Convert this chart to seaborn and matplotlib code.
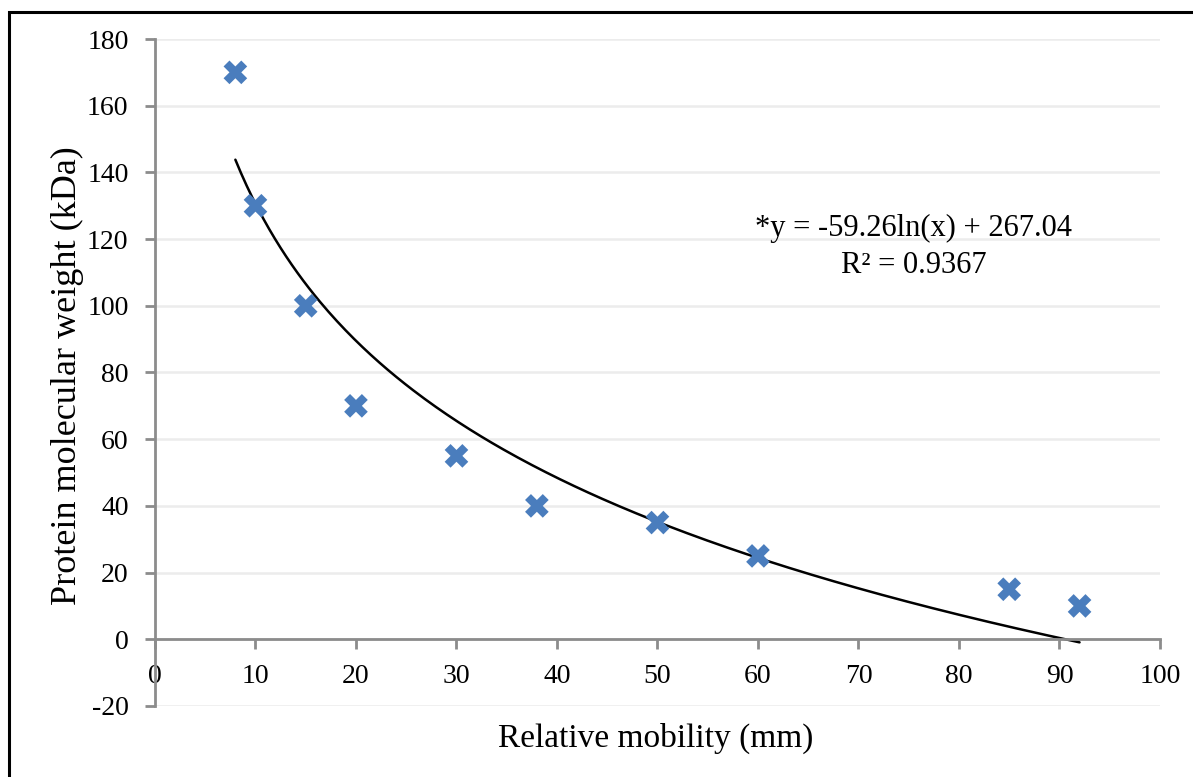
import numpy as np
import pandas as pd
import matplotlib
matplotlib.use("Agg")
import matplotlib.pyplot as plt
import seaborn as sns
from matplotlib.patches import Rectangle

# Marker standards: migration distance (mm) and molecular weight (kDa)
mobility = [8, 10, 15, 20, 30, 38, 50, 60, 85, 92]
mol_weight = [170, 130, 100, 70, 55, 40, 35, 25, 15, 10]

# Logarithmic trendline coefficients, y = a*ln(x) + b
trend_a = -59.26
trend_b = 267.04
r_squared = 0.9367

x_ticks = [0, 10, 20, 30, 40, 50, 60, 70, 80, 90, 100]
y_ticks = [-20, 0, 20, 40, 60, 80, 100, 120, 140, 160, 180]

sns.set_style("white")
plt.rcParams["font.family"] = ["Liberation Serif", "DejaVu Serif"]
plt.rcParams["text.color"] = "black"
plt.rcParams["axes.labelcolor"] = "black"

fig = plt.figure(figsize=(11.93, 7.77), dpi=100)
ax = fig.add_axes([0.1299, 0.0914, 0.8424, 0.8584])

axis_grey = "#8c8c8c"
grid_grey = "#ececec"

# horizontal gridlines
for yv in y_ticks:
    ax.axhline(yv, color=grid_grey, lw=1.8, zorder=0)

df = pd.DataFrame({"mobility": mobility, "weight": mol_weight})

# trendline over the span of the standards
xs = np.linspace(min(mobility), max(mobility), 300)
trend = pd.DataFrame({"x": xs, "y": trend_a * np.log(xs) + trend_b})
sns.lineplot(data=trend, x="x", y="y", ax=ax, color="black", lw=1.8, zorder=2)

sns.scatterplot(data=df, x="mobility", y="weight", ax=ax, marker="X",
                s=290, color="#4a7dbd", edgecolor="none", linewidth=0, zorder=3)

ax.set_xlim(0, 100)
ax.set_ylim(-20, 180)
ax.set_xticks(x_ticks)
ax.set_yticks(y_ticks)
ax.set_xticklabels([str(v) for v in x_ticks])
ax.set_yticklabels([str(v) for v in y_ticks])

for side in ["top", "right"]:
    ax.spines[side].set_visible(False)
ax.spines["left"].set_color(axis_grey)
ax.spines["left"].set_linewidth(2)
ax.spines["bottom"].set_color(axis_grey)
ax.spines["bottom"].set_linewidth(2)
ax.spines["bottom"].set_position(("data", 0))

ax.tick_params(axis="both", which="major", direction="out", length=7,
               width=2, color=axis_grey, labelsize=20, labelcolor="black")
ax.tick_params(axis="x", pad=11)
ax.tick_params(axis="y", pad=12)
ax.tick_params(left=True, bottom=True)

ax.set_xlabel("")
ax.set_ylabel("")
fig.text(656 / 1193, 1 - 738 / 777, "Relative mobility (mm)", fontsize=24,
         ha="center", va="center")
fig.text(67 / 1193, 1 - 376 / 777, "Protein molecular weight (kDa)", fontsize=26,
         ha="center", va="center", rotation=90)

ax.text(75.5, 123.2, f"*y = {trend_a}ln(x) + {trend_b}", fontsize=22,
        ha="center", va="center")
ax.text(75.5, 112.0, f"R² = {r_squared}", fontsize=22,
        ha="center", va="center")

# outer frame around the chart area
fig.patches.append(Rectangle((9 / 1193, -0.1), 1.2, 1 - 12 / 777 + 0.1,
                             transform=fig.transFigure, fill=False,
                             edgecolor="black", lw=2.2))

fig.savefig("out.png", dpi=100)
